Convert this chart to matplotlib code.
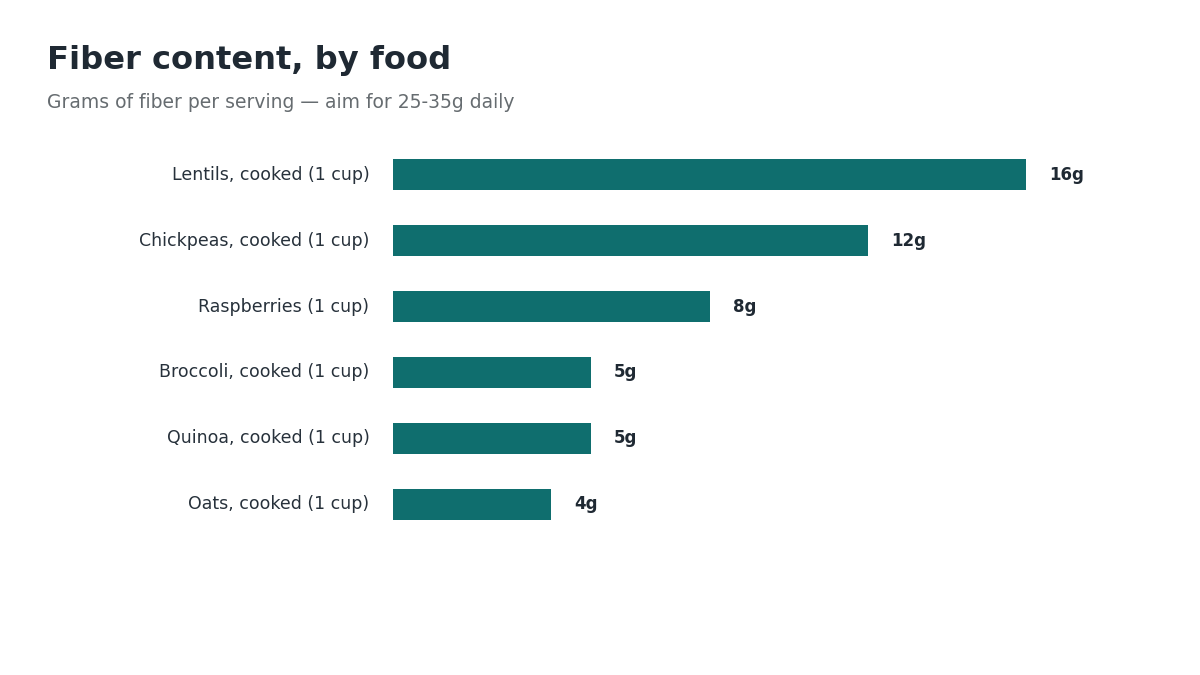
import matplotlib
matplotlib.use('Agg')
import matplotlib.pyplot as plt

foods = ['Lentils, cooked (1 cup)', 'Chickpeas, cooked (1 cup)', 'Raspberries (1 cup)',
         'Broccoli, cooked (1 cup)', 'Quinoa, cooked (1 cup)', 'Oats, cooked (1 cup)']
fiber_g = [16, 12, 8, 5, 5, 4]
value_labels = ['16g', '12g', '8g', '5g', '5g', '4g']

def main():
    plt.rcParams['font.family'] = ['DejaVu Sans']
    fig = plt.figure(figsize=(12, 6.75), dpi=100)
    fig.patch.set_facecolor('white')
    ax = fig.add_axes([393 / 1200, 1 - 537 / 675, 633 / 1200, 395 / 675])
    pos = list(range(len(foods)))
    ax.barh(pos, fiber_g, height=0.47, color='#0f6e6e')
    ax.set_xlim(0, 16)
    ax.set_ylim(len(foods) - 0.5, -0.5)
    ax.set_yticks(pos)
    ax.set_yticklabels(foods, fontsize=12.5, color='#27313b')
    for t in ax.get_yticklabels():
        t.set_verticalalignment('center')
    ax.tick_params(axis='y', length=0, pad=17)
    ax.set_xticks([])
    for s in ax.spines.values():
        s.set_visible(False)
    for p, v, lab in zip(pos, fiber_g, value_labels):
        ax.annotate(lab, (v, p), xytext=(23, 0), textcoords='offset pixels',
                    ha='left', va='center', fontsize=12, fontweight='bold', color='#1f2933')
    fig.text(47 / 1200, 1 - 61 / 675, 'Fiber content, by food', fontsize=23.1, fontweight='bold',
             color='#1f2933', ha='left', va='center')
    fig.text(47 / 1200, 1 - 102 / 675, 'Grams of fiber per serving \u2014 aim for 25-35g daily',
             fontsize=13.5, color='#666c70', ha='left', va='center')
    fig.savefig('out.png', dpi=100, facecolor='white')

if __name__ == '__main__':
    main()
